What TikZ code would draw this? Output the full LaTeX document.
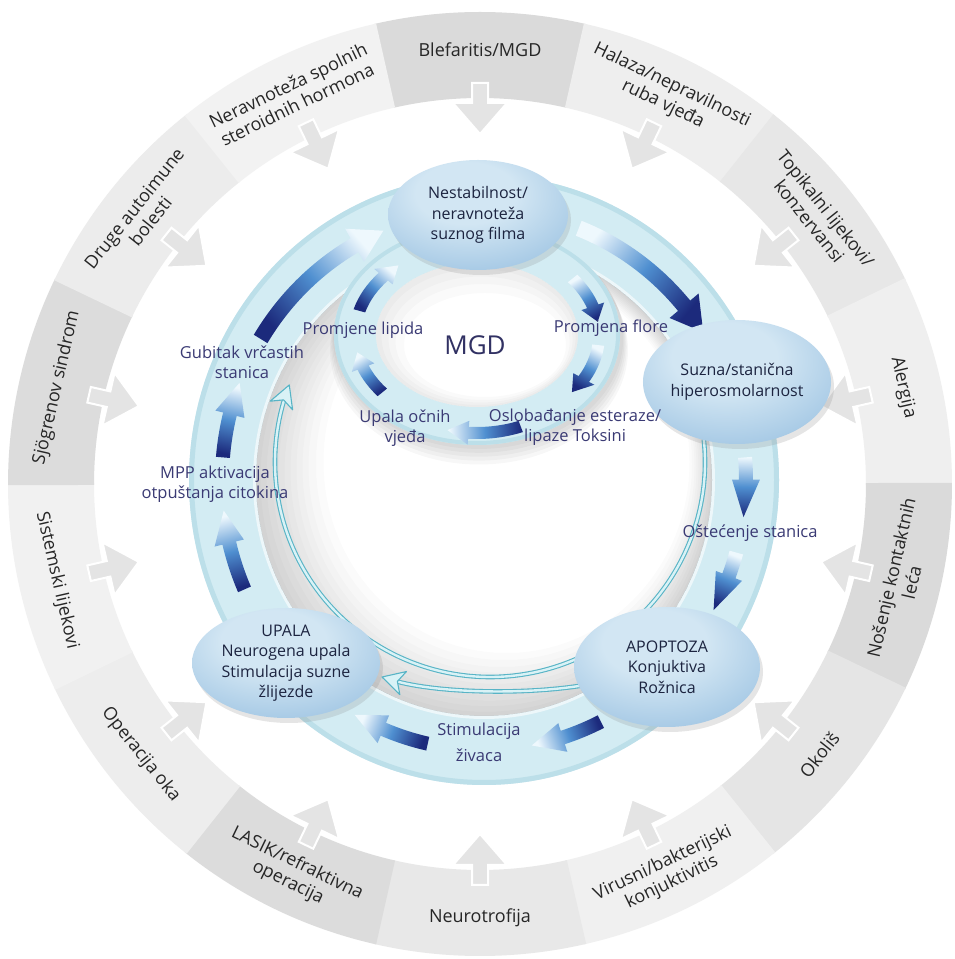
\documentclass[tikz,border=0pt]{standalone}
\usepackage{fontspec}
\setmainfont{Open Sans}
\usetikzlibrary{shadows,shapes.geometric}
\definecolor{otext}{HTML}{262626}
\definecolor{ltext}{HTML}{3A3A74}
\definecolor{etext}{HTML}{1C2440}
\definecolor{bandC}{HTML}{D3ECF3}
\definecolor{bandEdge}{HTML}{BCDFE9}
\definecolor{thinC}{HTML}{58B4C6}
\definecolor{thinL}{HTML}{D9F2F6}
\definecolor{arrDark}{HTML}{1C2A7C}
\definecolor{arrMid}{HTML}{4F8FD0}
\definecolor{arrLight}{HTML}{EEF8FD}
\definecolor{ellA}{HTML}{D2E6F3}
\definecolor{ellB}{HTML}{A9CBE6}
\definecolor{ellC}{HTML}{84AFD8}
\definecolor{ellD}{HTML}{6494C8}
\pgfdeclareradialshading{ellshade}{\pgfpoint{-4bp}{12bp}}{color(0bp)=(ellA); color(14bp)=(ellA); color(32bp)=(ellB); color(48bp)=(ellC); color(60bp)=(ellD); color(80bp)=(ellD)}
\newcommand\outerfont{\fontsize{18pt}{21pt}\selectfont}
\newcommand\ellfont{\fontsize{16pt}{20.5pt}\selectfont}
\newcommand\lblfont{\fontsize{16.5pt}{20pt}\selectfont}
\newcommand\ringarrow[7]{%
  \pgfmathsetmacro\raHB{#6+\raHL}%
  \pgfmathsetmacro\raDX{(#3)*cos(#6)-(#3)*cos(#5)}%
  \pgfmathsetmacro\raDY{(#4)*sin(#6)-(#4)*sin(#5)}%
  \pgfmathsetmacro\raSA{atan2(\raDY,\raDX)-90}%
  \shade[#7,shading angle=\raSA]
    ({#1+(#3+\raW)*cos(#5)},{#2+(#4+\raW)*sin(#5)})
    arc[start angle=#5,end angle=\raHB,x radius={(#3+\raW)*1pt},y radius={(#4+\raW)*1pt}]
    -- ({#1+(#3+\raHW)*cos(\raHB)},{#2+(#4+\raHW)*sin(\raHB)})
    -- ({#1+(#3)*cos(#6)},{#2+(#4)*sin(#6)})
    -- ({#1+(#3-\raHW)*cos(\raHB)},{#2+(#4-\raHW)*sin(\raHB)})
    -- ({#1+(#3-\raW)*cos(\raHB)},{#2+(#4-\raW)*sin(\raHB)})
    arc[start angle=\raHB,end angle=#5,x radius={(#3-\raW)*1pt},y radius={(#4-\raW)*1pt}]
    -- cycle;}
\newcommand\thinhead[2]{\begin{scope}[shift={(#1)},rotate=#2]\draw[thinC,line width=1.1pt,fill=thinL,line join=round] (0,0) -- (-22,12) -- (-16,0) -- (-22,-12) -- cycle;\end{scope}}
\tikzset{
  thinarc/.style={draw=thinC,line width=1.1pt,double=thinL,double distance=2.4pt},
  ell/.style={ellipse,shading=ellshade,align=center,inner sep=0pt,font=\ellfont,text=etext,
     drop shadow={opacity=0.2,shadow xshift=3pt,shadow yshift=-5pt}},
  lbl/.style={align=center,inner sep=0pt,font=\lblfont,text=ltext},
  olbl/.style={align=center,inner sep=0pt,font=\outerfont,text=otext},
  shdk/.style={bottom color=arrDark,top color=arrLight,middle color=arrMid},
  shlt/.style={bottom color=arrLight,top color=arrDark,middle color=arrMid}
}
\begin{document}
\begin{tikzpicture}[x=1pt,y=1pt]
\useasboundingbox (0,0) rectangle (954,959);
\fill[white] (0,0) rectangle (954,959);
% ---------------- outer ring
\begin{scope}[shift={(480,475)}]
  \foreach \ang/\col in {90/14.5,64.2857/6.7,38.5714/9.4,12.8571/6.3,-12.8571/14.5,-38.5714/10.2,-64.2857/5.9,-90/9.0,-115.7143/13.7,-141.4286/7.1,-167.1429/5.5,167.1429/13.7,141.4286/7.5,115.7143/5.1}{
    \fill[black!\col,rotate=\ang] (-13:472) arc[start angle=-13,end angle=13,radius=472pt] -- (13:386) arc[start angle=13,end angle=-13,radius=386pt] -- cycle;
  }
  \foreach \ang in {90,64.2857,38.5714,12.8571,-12.8571,-38.5714,-64.2857,-90,-115.7143,-141.4286,-167.1429,167.1429,141.4286,115.7143}{
    \draw[white,line width=2pt,fill=black!10.6,rotate=\ang] (401,8) -- (381,8) -- (381,27) -- (350,0) -- (381,-27) -- (381,-8) -- (401,-8) -- cycle;
  }
  \node[olbl,rotate=0] (o1) at (90:434) {Blefaritis/MGD};
  \node[olbl,rotate=-25.7143] (o2) at (64.2857:432) {Halaza/nepravilnosti\\ruba vjeđa};
  \node[olbl,rotate=-51.4286] (o3) at (38.5714:432) {Topikalni lijekovi/\\konzervansi};
  \node[olbl,rotate=-77.1429] (o4) at (12.8571:434) {Alergija};
  \node[olbl,rotate=77.1429] (o5) at (-12.8571:432) {Nošenje kontaktnih\\leća};
  \node[olbl,rotate=51.4286] (o6) at (-38.5714:434) {Okoliš};
  \node[olbl,rotate=25.7143] (o7) at (-64.2857:432) {Virusni/bakterijski\\konjuktivitis};
  \node[olbl,rotate=0] (o8) at (-90:434) {Neurotrofija};
  \node[olbl,rotate=-25.7143] (o9) at (-115.7143:432) {LASIK/refraktivna\\operacija};
  \node[olbl,rotate=-51.4286] (o10) at (-141.4286:434) {Operacija oka};
  \node[olbl,rotate=-77.1429] (o11) at (-167.1429:434) {Sistemski lijekovi};
  \node[olbl,rotate=77.1429] (o12) at (167.1429:434) {Sjögrenov sindrom};
  \node[olbl,rotate=51.4286] (o13) at (141.4286:432) {Druge autoimune\\bolesti};
  \node[olbl,rotate=25.7143] (o14) at (115.7143:432) {Neravnoteža spolnih\\steroidnih hormona};
\end{scope}
% ---------------- main band
\fill[bandC,even odd rule] (484,479) ellipse[x radius=295pt,y radius=305pt] (484,479) ellipse[x radius=228pt,y radius=236pt];
\draw[bandEdge,line width=5pt] (484,479) ellipse[x radius=292.5pt,y radius=302.5pt];
\draw[white,opacity=.6,line width=3pt] (484,479) ellipse[x radius=229.5pt,y radius=237.5pt];
\foreach \d in {3,7,11,15,19,23,27,31,35,40,45}
  \fill[black,opacity=.014,even odd rule] (484,479) ellipse[x radius=228pt,y radius=236pt] ({484+0.5*\d},{479+0.4*\d}) ellipse[x radius={(228-\d)*1pt},y radius={(236-\d)*1pt}];
% ---------------- MGD ring
\foreach \s in {3,6,9,12,15}
  \fill[black,opacity=.03] (479,{624-\s}) ellipse[x radius={(143+\s*0.4)*1pt},y radius={(110+\s*0.3)*1pt}];
\fill[bandC] (477,624) ellipse[x radius=143pt,y radius=110pt];
\draw[bandEdge,line width=4pt] (477,624) ellipse[x radius=141pt,y radius=108pt];
\fill[white] (477,624) ellipse[x radius=101pt,y radius=72pt];
\foreach \d in {4,9,14,20}
  \fill[black,opacity=.02,even odd rule] (477,624) ellipse[x radius=101pt,y radius=72pt] ({477+0.4*\d},{624-0.5*\d}) ellipse[x radius={(101-\d)*1pt},y radius={(72-\d)*1pt}];
% ---------------- thin cyan arrows
\coordinate (Bs) at ({490+215*cos(6)},{497+215*sin(6)});
\coordinate (Bt) at ({490+215*cos(-201)},{497+215*sin(-201)});
\draw[thinarc] (Bs) arc[start angle=6,end angle=-197,radius=215pt];
\thinhead{Bt}{69}
\coordinate (As) at (620,282);
\coordinate (Ae) at (397,277.5);
\coordinate (At) at (382,282);
\draw[thinarc] (As) .. controls (560,263) and (447,264) .. (Ae);
\thinhead{At}{164}
% ---------------- main band arrows
\def\raW{8}\def\raHW{19}\def\raHL{7}
\ringarrow{484}{479}{262}{270}{148.5}{112.6}{shdk}
\ringarrow{484}{479}{262}{270}{68.8}{33.2}{shlt}
\def\raW{7}\def\raHW{14}\def\raHL{8}
\ringarrow{484}{479}{262}{270}{4.8}{-7.9}{shlt}
\ringarrow{484}{479}{262}{270}{-15.6}{-28.8}{shlt}
\def\raW{7}\def\raHW{15}\def\raHL{7}
\ringarrow{484}{479}{262}{270}{-63.5}{-79.5}{shdk}
\ringarrow{484}{479}{262}{270}{-102.4}{-119.6}{shdk}
\ringarrow{484}{479}{262}{270}{-156.1}{-173.5}{shdk}
\ringarrow{484}{479}{262}{270}{175.2}{158.9}{shdk}
% ---------------- MGD ring arrows
\def\raW{6}\def\raHW{12}\def\raHL{10}
\ringarrow{477}{624}{122}{91}{164.6}{130.1}{shdk}
\ringarrow{477}{624}{122}{91}{38.4}{8.4}{shlt}
\ringarrow{477}{624}{122}{91}{-6.4}{-38.9}{shlt}
\ringarrow{477}{624}{122}{98}{291}{256}{shdk}
\ringarrow{477}{624}{122}{91}{219.1}{191}{shdk}
% ---------------- ellipse nodes
\node[ell,minimum width=180pt,minimum height=110pt] (nest) at (478,744) {Nestabilnost/\\neravnoteža\\suznog filma};
\node[ell,minimum width=186pt,minimum height=124pt] (suzna) at (737,577) {Suzna/stanična\\hiperosmolarnost};
\node[ell,minimum width=186pt,minimum height=120pt] (apo) at (667,292) {APOPTOZA\\Konjuktiva\\Rožnica};
\node[ell,minimum width=188pt,minimum height=110pt] (upala) at (286,296) {UPALA\\Neurogena upala\\Stimulacija suzne\\žlijezde};
% ---------------- labels
\node[lbl] (gub) at (242,597) {Gubitak vrčastih\\stanica};
\node[lbl] (mpp) at (215,475) {MPP aktivacija\\otpuštanja citokina};
\node[lbl] (ost) at (750,426) {Oštećenje stanica};
\node[lbl] (stim) at (479,217) {Stimulacija\\[6pt]živaca};
\node[lbl] (lip) at (363,629) {Promjene lipida};
\node[lbl] (flo) at (611,631) {Promjena flore};
\node[lbl,font=\fontsize{26pt}{30pt}\selectfont,text=ltext!85!black] (mgd) at (475,614) {MGD};
\node[lbl] (osl) at (575,532) {Oslobađanje esteraze/\\lipaze Toksini};
\node[lbl] (upo) at (405,531) {Upala očnih\\vjeđa};
\end{tikzpicture}
\end{document}
